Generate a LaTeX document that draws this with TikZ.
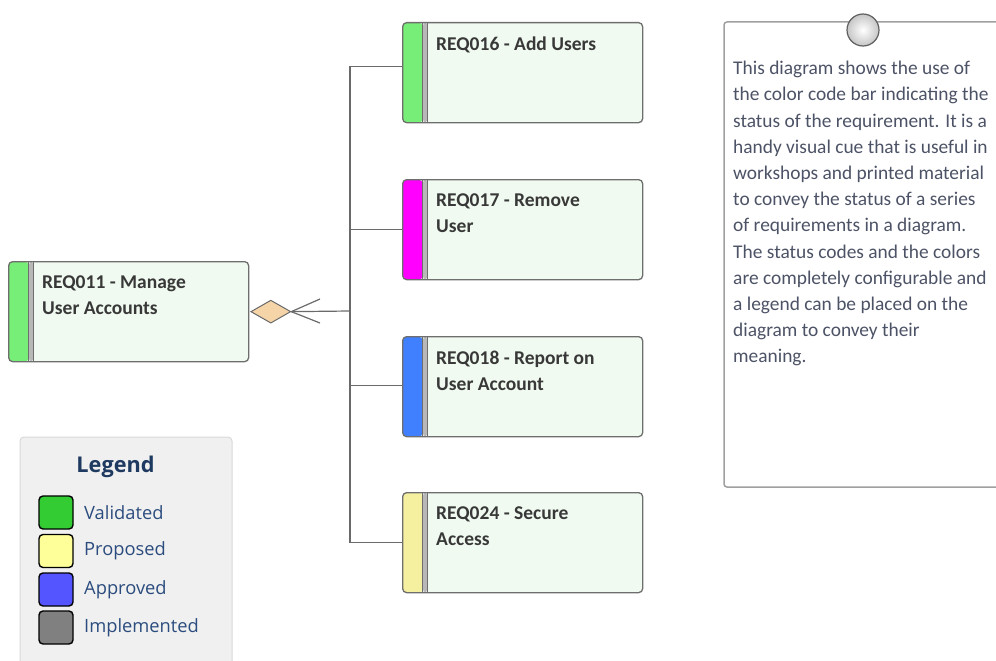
\documentclass[tikz,border=0pt]{standalone}
\usepackage{fontspec}
\setmainfont{Carlito}
\newfontfamily\legfont{Open Sans}
\usetikzlibrary{shapes.geometric}
\definecolor{boxline}{HTML}{6E6E6E}
\definecolor{bodyfill}{HTML}{F0FAF0}
\definecolor{sepgray}{HTML}{B8B8B8}
\definecolor{barGreen}{HTML}{77EE77}
\definecolor{barMagenta}{HTML}{FF00FF}
\definecolor{barBlue}{HTML}{4080FF}
\definecolor{barYellow}{HTML}{F5F0A0}
\definecolor{reqtxt}{HTML}{383838}
\definecolor{conncol}{HTML}{6A6A6A}
\definecolor{diafill}{HTML}{F5D5A8}
\definecolor{legfill}{HTML}{F0F0F0}
\definecolor{legline}{HTML}{D9D9D9}
\definecolor{legtitle}{HTML}{1F3A60}
\definecolor{legtxt}{HTML}{2B4C7E}
\definecolor{swGreen}{HTML}{33CC33}
\definecolor{swYellow}{HTML}{FFFF99}
\definecolor{swBlue}{HTML}{5555FF}
\definecolor{swGray}{HTML}{808080}
\definecolor{noteline}{HTML}{A0A0A0}
\definecolor{notetxt}{HTML}{4D5366}
\tikzset{
  reqbox/.style={draw=boxline, line width=1.3pt, fill=bodyfill, rounded corners=4pt,
    minimum width=240pt, minimum height=100pt, anchor=north west, inner sep=0pt,
    path picture={
      \fill[#1] (path picture bounding box.north west) rectangle ([xshift=20pt]path picture bounding box.south west);
      \fill[sepgray] ([xshift=20pt]path picture bounding box.north west) rectangle ([xshift=25pt]path picture bounding box.south west);
      \draw[boxline, line width=0.8pt] ([xshift=20pt]path picture bounding box.north west) -- ([xshift=20pt]path picture bounding box.south west);
      \draw[boxline, line width=0.8pt] ([xshift=25pt]path picture bounding box.north west) -- ([xshift=25pt]path picture bounding box.south west);
    }},
  reqtext/.style={anchor=north west, inner sep=0pt, align=left, text=reqtxt,
    font=\fontsize{19.5}{26}\selectfont\bfseries},
  conn/.style={draw=conncol, line width=1.2pt},
  swatch/.style={draw=black, line width=1.4pt, rounded corners=4pt, minimum width=34pt, minimum height=33pt, inner sep=0pt},
  leglabel/.style={anchor=west, inner sep=0pt, text=legtxt, font=\legfont\fontsize{18.3}{22}\selectfont},
}
\begin{document}
\begin{tikzpicture}[x=1pt,y=-1pt]
\useasboundingbox (0,0) rectangle (996,661);
% note
\draw[noteline, line width=1.5pt, fill=white, rounded corners=3pt] (724,22) rectangle (1010,487);
\shade[inner color=white, outer color=gray!45] (863,30) circle (16);
\draw[gray!75!black, line width=1.2pt] (863,30) circle (16);
\node[anchor=north west, inner sep=0pt, align=left, text=notetxt,
  font=\fontsize{19.4}{26.2}\selectfont] (note) at (733,61) {This diagram shows the use of\\
the color code bar indicating the\\
status of the requirement.  It is a\\
handy visual cue that is useful in\\
workshops and printed material\\
to convey the status of a series\\
of requirements in a diagram.\\
The status codes and the colors\\
are completely configurable and\\
a legend can be placed on the\\
diagram to convey their\\
meaning.};
% requirement boxes
\node[reqbox=barGreen] (r011) at (8,261) {};
\node[reqbox=barGreen] (r016) at (402,22) {};
\node[reqbox=barMagenta] (r017) at (402,179) {};
\node[reqbox=barBlue] (r018) at (402,336) {};
\node[reqbox=barYellow] (r024) at (402,492) {};
\node[reqtext] (t011) at (42,276) {REQ011 - Manage\\User Accounts};
\node[reqtext] (t016) at (436,37) {REQ016 - Add Users};
\node[reqtext] (t017) at (436,194) {REQ017 - Remove\\User};
\node[reqtext] (t018) at (436,351) {REQ018 - Report on\\User Account};
\node[reqtext] (t024) at (436,507) {REQ024 - Secure\\Access};
% connectors
\coordinate (j) at (350,311);
\node[diamond, draw=conncol, line width=1pt, fill=diafill, minimum width=40pt, minimum height=23pt, inner sep=0pt, anchor=west] (dia) at ([xshift=1pt]r011.east) {};
\coordinate (cf1) at (320,299);
\coordinate (cf2) at (320,323);
\draw[conn] (dia.east) -- (j);
\draw[conn] (dia.east) -- (cf1);
\draw[conn] (dia.east) -- (cf2);
\draw[conn] ([yshift=6pt]r016.west) -| (j) |- (r024.west);
\draw[conn] (r017.west) -- (r017.west -| j);
\draw[conn] ([yshift=1pt]r018.west) -- ([yshift=1pt]r018.west -| j);
% legend
\draw[legline, line width=1pt, fill=legfill, rounded corners=4pt] (20,437) rectangle (232,675);
\node[text=legtitle, inner sep=0pt, font=\legfont\fontsize{21.7}{26}\selectfont\bfseries] (legt) at (115.5,467) {Legend};
\node[swatch, fill=swGreen] (s1) at (56,512.5) {};
\node[swatch, fill=swYellow] (s2) at (56,551) {};
\node[swatch, fill=swBlue] (s3) at (56,589.5) {};
\node[swatch, fill=swGray] (s4) at (56,627.5) {};
\node[leglabel] (l1) at (84,513) {Validated};
\node[leglabel] (l2) at (84,551) {Proposed};
\node[leglabel] (l3) at (84,590) {Approved};
\node[leglabel] (l4) at (84,628) {Implemented};
\end{tikzpicture}
\end{document}
